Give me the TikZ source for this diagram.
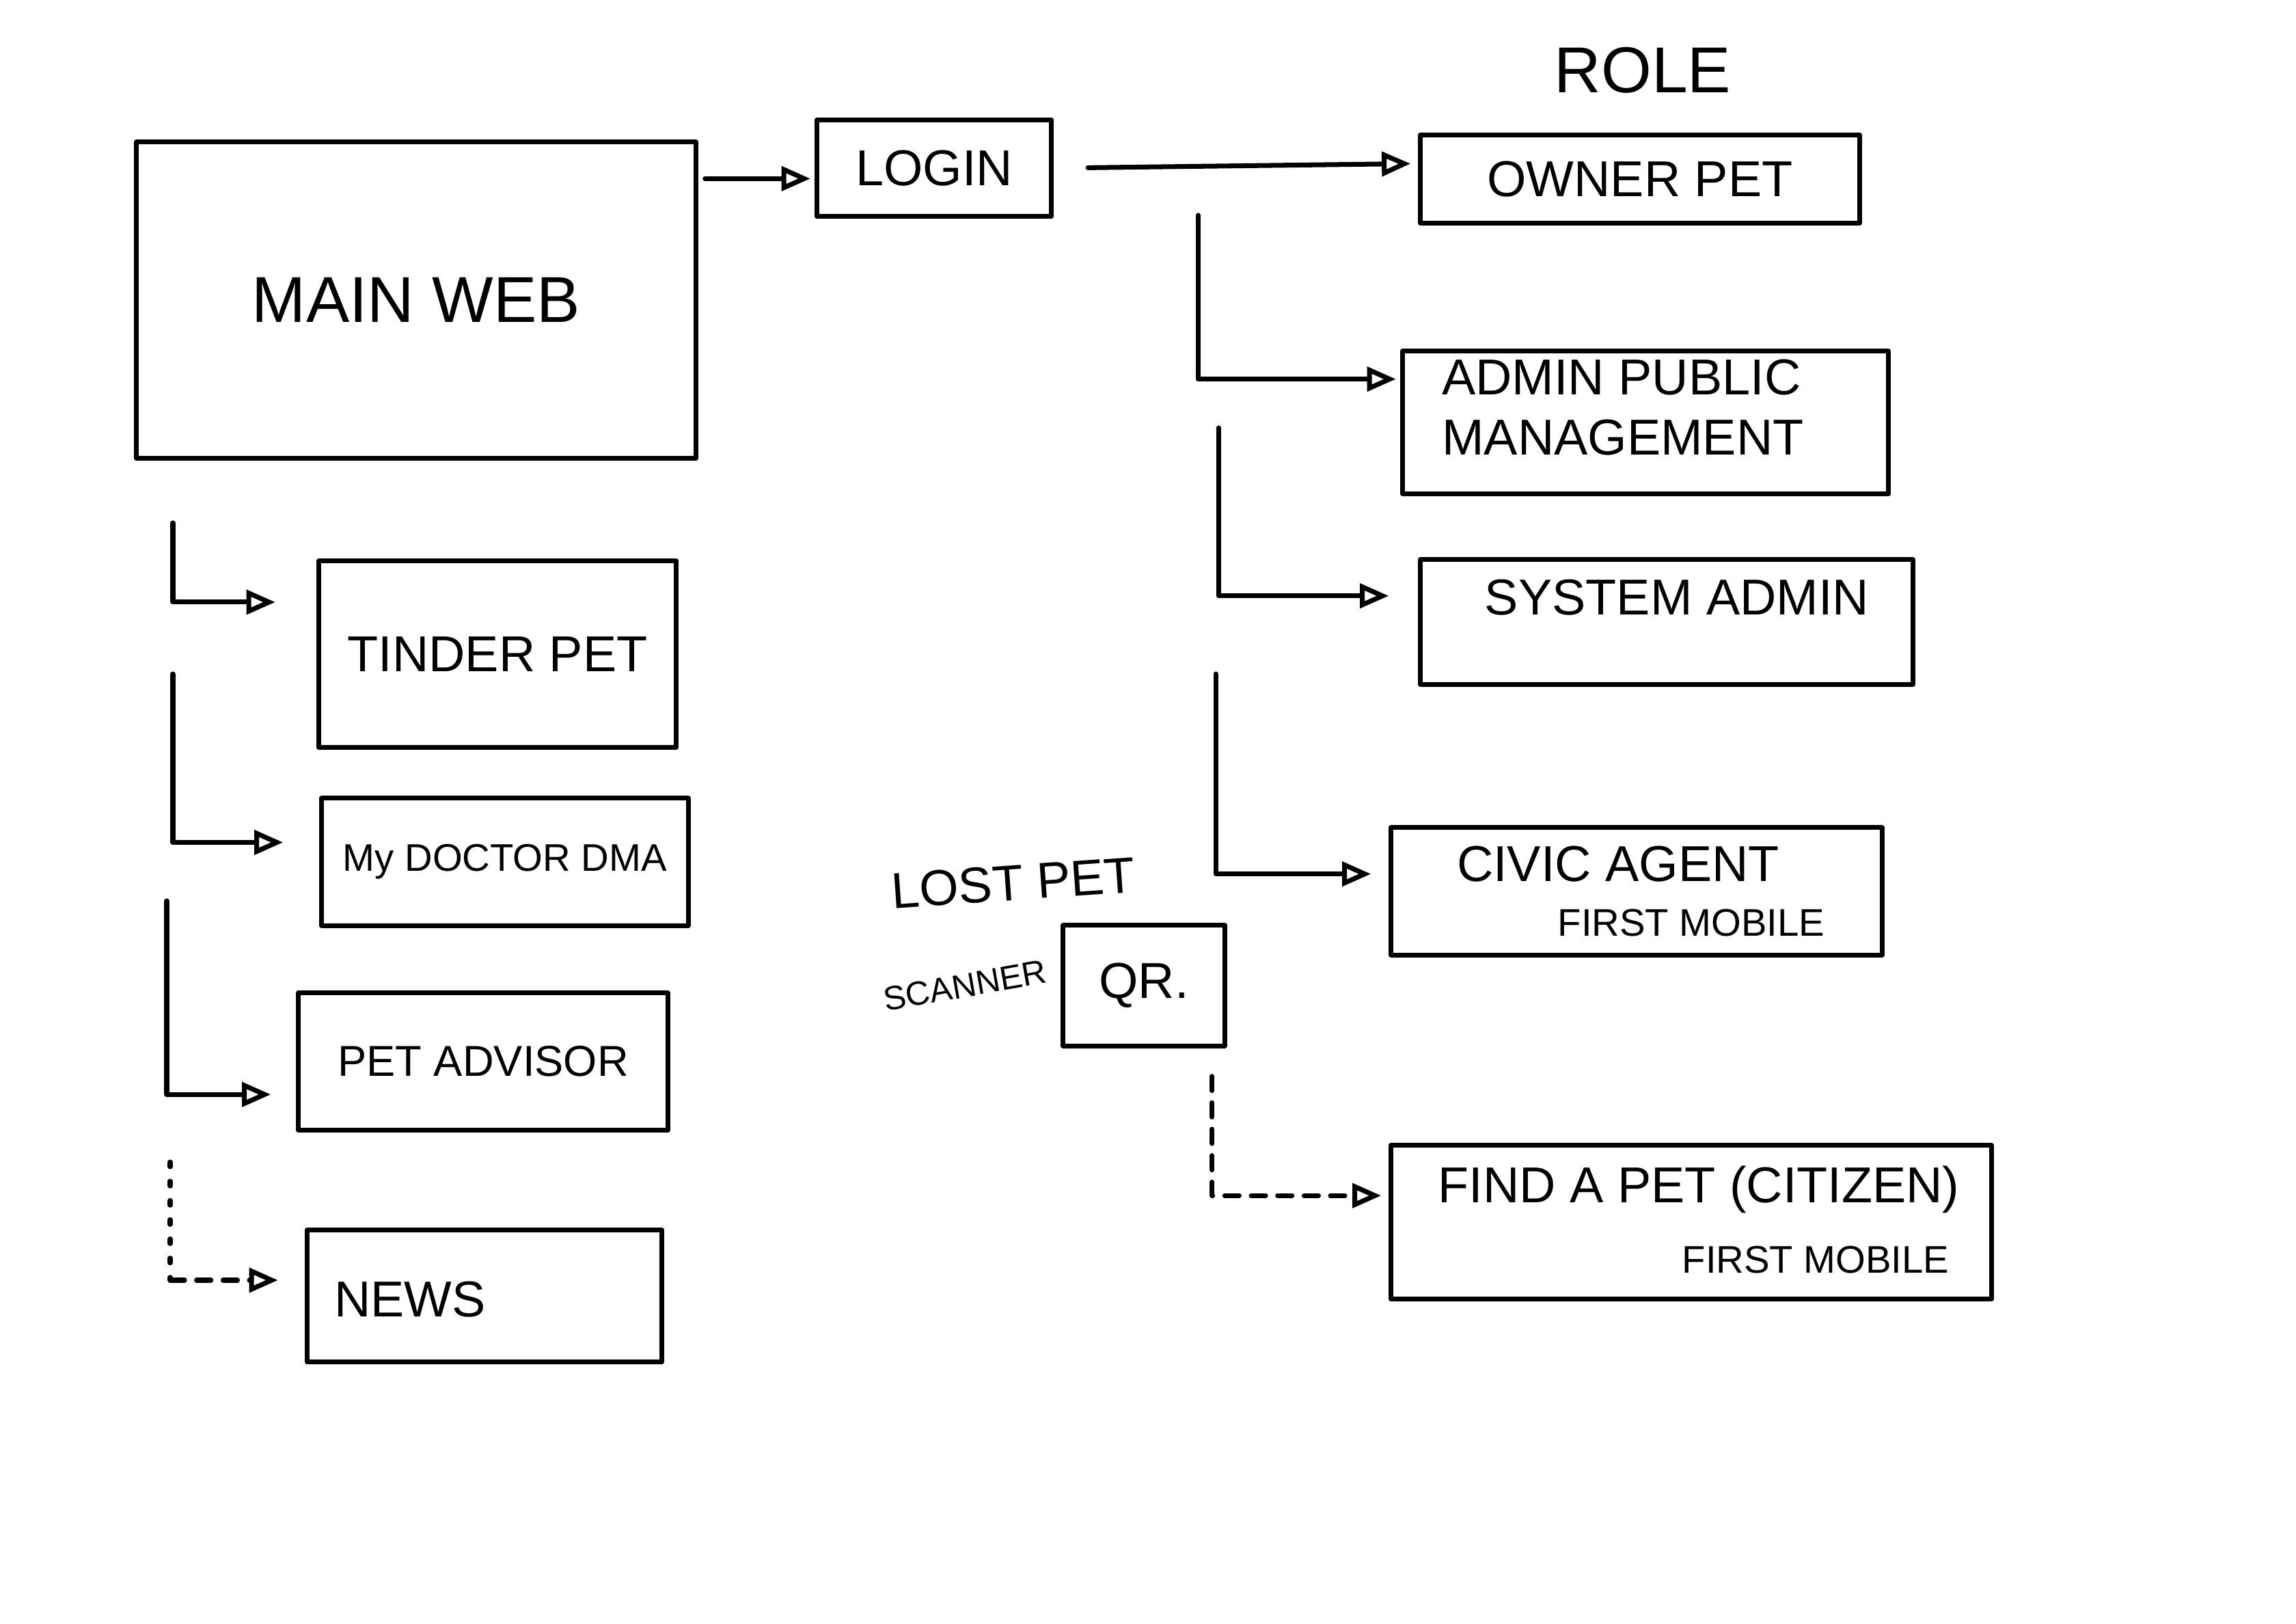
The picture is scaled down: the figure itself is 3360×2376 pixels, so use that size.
\documentclass[tikz,border=0pt]{standalone}
\usepackage{fontspec}
\setmainfont{Liberation Sans}
\usetikzlibrary{arrows.meta}

\begin{document}
\begin{tikzpicture}
[x=0.01cm, y=-0.01cm, line width=2pt, line cap=round, line join=round,
box/.style={rectangle, draw, line width=2pt, inner sep=0pt},
big/.style={font=\fontsize{27}{30}\selectfont},
mid/.style={font=\fontsize{21}{25}\selectfont},
small/.style={font=\fontsize{16}{19}\selectfont},
flow/.style={-{Triangle[open, length=12pt, width=10pt]}, line width=2pt},
flowdash/.style={flow, dash pattern=on 6pt off 5pt}]

\useasboundingbox (0,0) rectangle (3360,2376);

\node[box, minimum width=8.18cm, minimum height=4.62cm, big] (main) at (609,439) {MAIN WEB};
\node[box, minimum width=3.43cm, minimum height=1.41cm, mid] (login) at (1367,246) {LOGIN};
\node[big] (role) at (2404,103) {ROLE};

\node[box, minimum width=6.42cm, minimum height=1.29cm, mid] (owner) at (2400,262) {OWNER PET};
\node[box, minimum width=7.11cm, minimum height=2.08cm] (admin) at (2408,618) {};
\node[mid, anchor=west, align=left] (admintxt) at (2095,596) {ADMIN PUBLIC\\MANAGEMENT};
\node[box, minimum width=7.20cm, minimum height=1.82cm] (sysadmin) at (2439,910) {};
\node[mid] (systxt) at (2454,874) {SYSTEM ADMIN};
\node[box, minimum width=7.18cm, minimum height=1.86cm] (civic) at (2395,1304) {};
\node[mid] (civictxt) at (2368,1264) {CIVIC AGENT};
\node[small] (civicmob) at (2475,1350) {FIRST MOBILE};
\node[box, minimum width=8.78cm, minimum height=2.25cm] (find) at (2475,1788) {};
\node[mid] (findtxt) at (2486,1740) {FIND A PET (CITIZEN)};
\node[small] (findmob) at (2657,1843) {FIRST MOBILE};

\node[box, minimum width=2.36cm, minimum height=1.76cm, mid] (qr) at (1674,1442) {QR.};
\node[mid, rotate=4] (lost) at (1483,1292) {LOST PET};
\node[font=\fontsize{14}{16}\selectfont, rotate=10] (scanner) at (1412,1442) {SCANNER};

\node[box, minimum width=5.23cm, minimum height=2.72cm, mid] (tinder) at (728,957) {TINDER PET};
\node[box, minimum width=5.36cm, minimum height=1.86cm, font=\fontsize{16}{19}\selectfont] (doctor) at (739,1261) {My DOCTOR DMA};
\node[box, minimum width=5.40cm, minimum height=2.01cm, font=\fontsize{18}{22}\selectfont] (advisor) at (707,1553) {PET ADVISOR};
\node[box, minimum width=5.19cm, minimum height=1.93cm] (news) at (709,1896) {};
\node[mid] (newstxt) at (600,1901) {NEWS};

\draw[flow, shorten <=0.1cm, shorten >=0.06cm] (main.east |- login.185) -- (login.185);
\draw[flow, shorten <=0.5cm, shorten >=0.11cm] (login.east) -- (owner.176);

\coordinate (r1) at (1753,315);
\coordinate (r2) at (1783,626);
\coordinate (r3) at (1779,986);
\coordinate (r4) at ([xshift=-0.22cm, yshift=-0.41cm]qr.south east);
\draw[flow, shorten >=0.06cm] (r1) |- (admin.170);
\draw[flow, shorten >=0.43cm] (r2) |- (sysadmin.174);
\draw[flow, shorten >=0.26cm] (r3) |- (civic.176);
\draw[flowdash, shorten >=0.11cm] (r4) |- (find.175);

\coordinate (l1) at (253,765);
\coordinate (l2) at (253,986);
\coordinate (l3) at (244,1318);
\coordinate (l4) at (249,1700);
\draw[flow, shorten >=0.6cm] (l1) |- (tinder.164);
\draw[flow, shorten >=0.53cm] (l2) |- (doctor.174);
\draw[flow, shorten >=0.37cm] (l3) |- (advisor.190);
\coordinate (l4b) at (l4 |- news.175);
\draw[dash pattern=on 2pt off 6pt] (l4) -- (l4b);
\draw[flowdash, shorten >=0.39cm] (l4b) -- (news.175);

\end{tikzpicture}
\end{document}
